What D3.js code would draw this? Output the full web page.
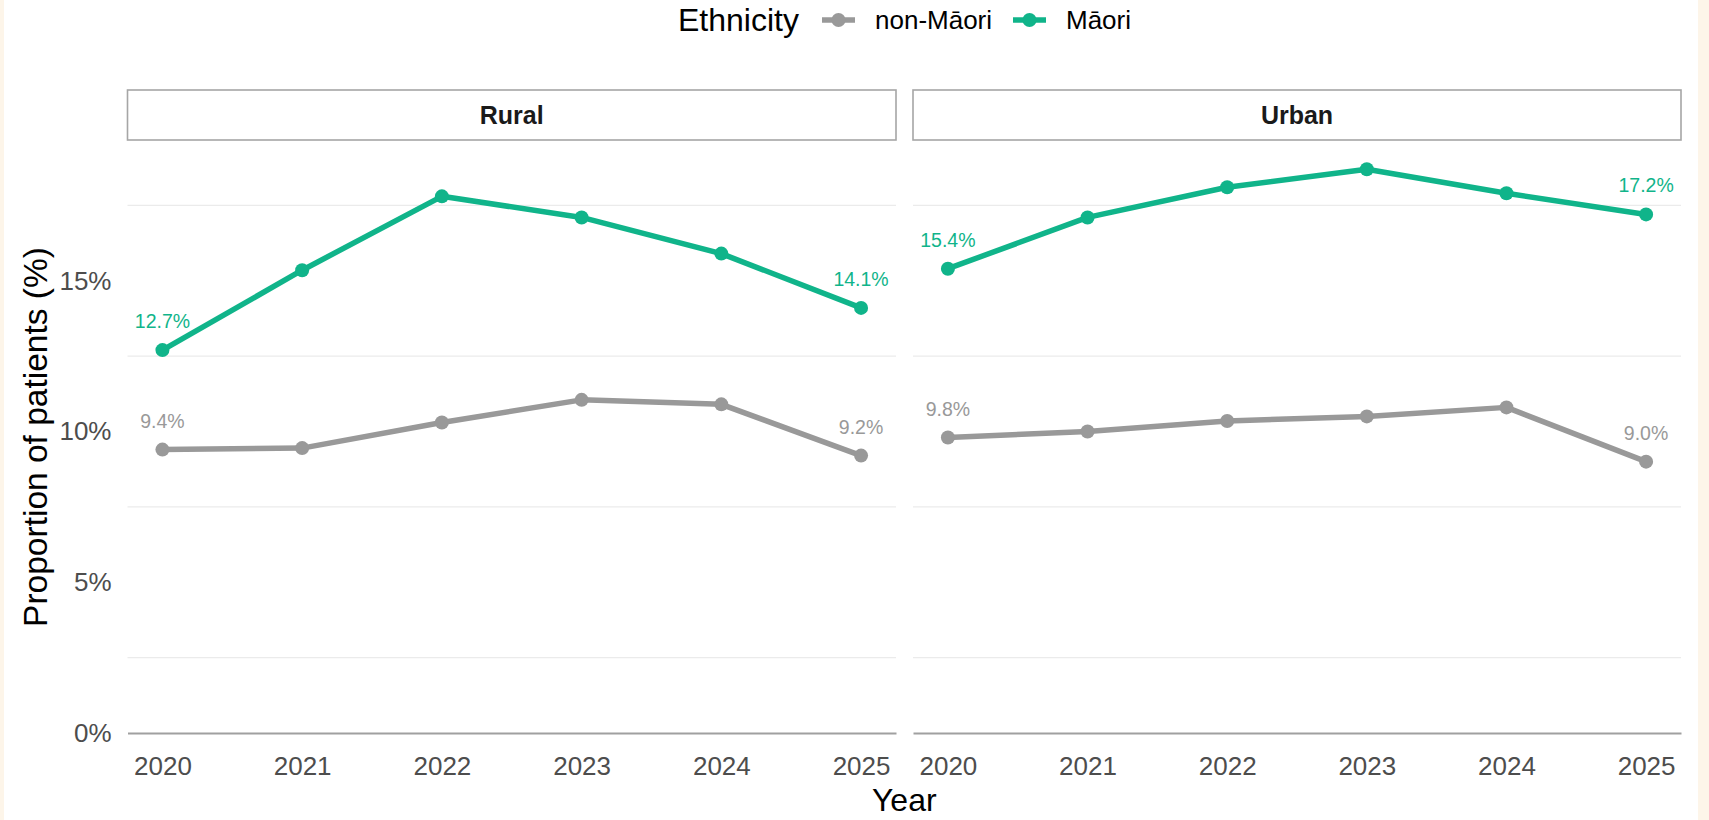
<!DOCTYPE html>
<html>
<head>
<meta charset="utf-8">
<script src="https://cdn.jsdelivr.net/npm/d3@7"></script>
<style>
  body { margin: 0; background: #fdf5e9; }
  svg text { font-family: "Liberation Sans", Arial, sans-serif; }
</style>
</head>
<body>
<div id="chart"></div>
<script>
// data
var years = [2020, 2021, 2022, 2023, 2024, 2025]
var areas = ["Rural", "Urban"]
var ethnicities = ["non-Māori", "Māori"]
var ruralMaori    = [12.7, 15.35, 17.8, 17.1, 15.9, 14.1]
var ruralNonMaori = [9.4, 9.45, 10.3, 11.05, 10.9, 9.2]
var urbanMaori    = [15.4, 17.1, 18.1, 18.7, 17.9, 17.2]
var urbanNonMaori = [9.8, 10.0, 10.35, 10.5, 10.8, 9.0]
var yTicks = [0, 5, 10, 15]
var yMinor = [2.5, 7.5, 12.5, 17.5]

var colors = {"non-Māori": "#999999", "Māori": "#10b48a"}
var seriesByArea = {
  "Rural": {"non-Māori": ruralNonMaori, "Māori": ruralMaori},
  "Urban": {"non-Māori": urbanNonMaori, "Māori": urbanMaori}
}

var width = 1709, height = 820
var panelTop = 141, panelBottom = 733
var panels = [
  {area: "Rural", x0: 127.5, x1: 896},
  {area: "Urban", x0: 913, x1: 1681}
]

var svg = d3.select("#chart")
  .append("svg")
  .attr("width", width)
  .attr("height", height)

// white plot background, cream page shows at the sides
svg.append("rect")
  .attr("x", 4).attr("y", 0)
  .attr("width", 1694).attr("height", height)
  .attr("fill", "#ffffff")

var allVals = ruralMaori.concat(ruralNonMaori, urbanMaori, urbanNonMaori)
var yscale = d3.scaleLinear()
  .domain([0, d3.max(allVals) * 1.05])
  .range([panelBottom, panelTop])

// y tick labels (only on the left panel)
var yaxis = d3.axisLeft(yscale)
  .tickValues(yTicks)
  .tickSize(0)
  .tickPadding(16)
  .tickFormat(function(d){ return d + "%" })

var yg = svg.append("g")
  .attr("transform", "translate(" + panels[0].x0 + ",0)")
  .call(yaxis)
yg.select(".domain").remove()
yg.selectAll("text")
  .attr("font-size", 26)
  .attr("fill", "#4d4d4d")
  .attr("font-family", "Liberation Sans, Arial, sans-serif")

panels.forEach(function(p){
  var xscale = d3.scaleLinear()
    .domain([2020 - 0.25, 2025 + 0.25])
    .range([p.x0, p.x1])

  var g = svg.append("g").attr("class", "panel " + p.area)

  // minor gridlines only
  g.selectAll(".grid")
    .data(yMinor)
    .enter()
    .append("line")
    .attr("x1", p.x0).attr("x2", p.x1)
    .attr("y1", function(d){ return yscale(d) })
    .attr("y2", function(d){ return yscale(d) })
    .attr("stroke", "#ebebeb")
    .attr("stroke-width", 1.2)

  // strip
  g.append("rect")
    .attr("x", p.x0).attr("y", 90)
    .attr("width", p.x1 - p.x0).attr("height", 50)
    .attr("fill", "#ffffff")
    .attr("stroke", "#a6a6a6")
    .attr("stroke-width", 1.6)
  g.append("text")
    .attr("x", (p.x0 + p.x1) / 2)
    .attr("y", 115)
    .attr("dy", "0.35em")
    .attr("text-anchor", "middle")
    .attr("font-size", 25)
    .attr("font-weight", "bold")
    .attr("fill", "#1a1a1a")
    .text(p.area)

  // x axis
  var xaxis = d3.axisBottom(xscale)
    .tickValues(years)
    .tickSize(0)
    .tickSizeOuter(0)
    .tickPadding(24)
    .tickFormat(d3.format("d"))
  var xg = g.append("g")
    .attr("transform", "translate(0," + panelBottom + ")")
    .call(xaxis)
  xg.select(".domain")
    .attr("stroke", "#a0a0a0")
    .attr("stroke-width", 2)
  xg.selectAll("text")
    .attr("font-size", 26)
    .attr("fill", "#4d4d4d")
    .attr("font-family", "Liberation Sans, Arial, sans-serif")

  var line = d3.line()
    .x(function(d, i){ return xscale(years[i]) })
    .y(function(d){ return yscale(d) })

  ethnicities.forEach(function(eth){
    var vals = seriesByArea[p.area][eth]
    g.append("path")
      .datum(vals)
      .attr("d", line)
      .attr("fill", "none")
      .attr("stroke", colors[eth])
      .attr("stroke-width", 5.5)
      .attr("stroke-linejoin", "round")

    g.selectAll(".pt" + eth)
      .data(vals)
      .enter()
      .append("circle")
      .attr("cx", function(d, i){ return xscale(years[i]) })
      .attr("cy", function(d){ return yscale(d) })
      .attr("r", 7)
      .attr("fill", colors[eth])

    // labels on first and last year
    var ends = [0, vals.length - 1]
    g.selectAll(".lab" + eth)
      .data(ends)
      .enter()
      .append("text")
      .attr("x", function(i){ return xscale(years[i]) })
      .attr("y", function(i){ return yscale(vals[i]) - 22 })
      .attr("text-anchor", "middle")
      .attr("font-size", 19.5)
      .attr("fill", colors[eth])
      .text(function(i){ return vals[i].toFixed(1) + "%" })
  })
})

// axis titles
svg.append("text")
  .attr("x", (panels[0].x0 + panels[1].x1) / 2)
  .attr("y", 811)
  .attr("text-anchor", "middle")
  .attr("font-size", 32)
  .attr("fill", "#000")
  .text("Year")

svg.append("text")
  .attr("transform", "translate(47," + ((panelTop + panelBottom) / 2) + ") rotate(-90)")
  .attr("text-anchor", "middle")
  .attr("font-size", 33.5)
  .attr("fill", "#000")
  .text("Proportion of patients (%)")

// legend
var legend = svg.append("g").attr("class", "legend")
legend.append("text")
  .attr("x", 678).attr("y", 31)
  .attr("font-size", 32)
  .attr("fill", "#000")
  .text("Ethnicity")

var legendX = [822, 1013]
ethnicities.forEach(function(eth, i){
  var lx = legendX[i]
  legend.append("line")
    .attr("x1", lx).attr("x2", lx + 33)
    .attr("y1", 20).attr("y2", 20)
    .attr("stroke", colors[eth])
    .attr("stroke-width", 5.5)
  legend.append("circle")
    .attr("cx", lx + 16.5).attr("cy", 20)
    .attr("r", 7)
    .attr("fill", colors[eth])
  legend.append("text")
    .attr("x", lx + 53).attr("y", 29)
    .attr("font-size", 26)
    .attr("fill", "#000")
    .text(eth)
})
</script>
</body>
</html>
